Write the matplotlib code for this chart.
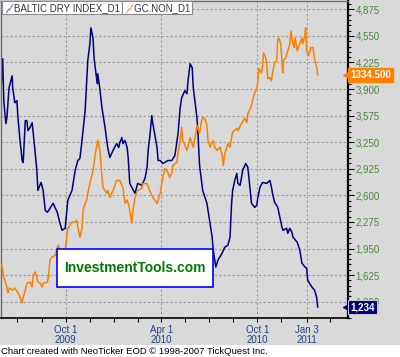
import matplotlib
matplotlib.use('Agg')
import matplotlib.pyplot as plt
import pandas as pd
from matplotlib.patches import Rectangle
from matplotlib.ticker import FixedLocator, MultipleLocator, FuncFormatter
from matplotlib.transforms import blended_transform_factory

plt.rcParams['font.family'] = ['Liberation Sans', 'DejaVu Sans']

# Baltic Dry Index (daily close)
bdi_dates = [
    '2009-05-31', '2009-06-03', '2009-06-05', '2009-06-09', '2009-06-11', '2009-06-15', '2009-06-21', '2009-06-22', '2009-06-26', '2009-06-30',
    '2009-07-02', '2009-07-06', '2009-07-10', '2009-07-12', '2009-07-16', '2009-07-19', '2009-07-21', '2009-07-25', '2009-07-29', '2009-07-31',
    '2009-08-04', '2009-08-07', '2009-08-09', '2009-08-15', '2009-08-19', '2009-08-23', '2009-08-27', '2009-09-01', '2009-09-07', '2009-09-15',
    '2009-09-20', '2009-09-24', '2009-09-30', '2009-10-05', '2009-10-13', '2009-10-19', '2009-10-24', '2009-10-28', '2009-11-01', '2009-11-07',
    '2009-11-12', '2009-11-16', '2009-11-18', '2009-11-22', '2009-11-24', '2009-11-30', '2009-12-01', '2009-12-05', '2009-12-09', '2009-12-15',
    '2009-12-20', '2009-12-24', '2009-12-30', '2010-01-06', '2010-01-10', '2010-01-12', '2010-01-16', '2010-01-18', '2010-01-22', '2010-01-26',
    '2010-01-28', '2010-01-31', '2010-02-04', '2010-02-10', '2010-02-15', '2010-02-23', '2010-03-01', '2010-03-05', '2010-03-07', '2010-03-10',
    '2010-03-14', '2010-03-16', '2010-03-24', '2010-03-26', '2010-03-30', '2010-04-04', '2010-04-14', '2010-04-21', '2010-04-27', '2010-05-03',
    '2010-05-07', '2010-05-10', '2010-05-16', '2010-05-20', '2010-05-22', '2010-05-26', '2010-05-30', '2010-06-01', '2010-06-04', '2010-06-08',
    '2010-06-10', '2010-06-13', '2010-06-19', '2010-06-27', '2010-07-03', '2010-07-07', '2010-07-09', '2010-07-14', '2010-07-18', '2010-07-26',
    '2010-07-31', '2010-08-06', '2010-08-10', '2010-08-13', '2010-08-15', '2010-08-19', '2010-08-23', '2010-08-25', '2010-08-29', '2010-09-01',
    '2010-09-03', '2010-09-09', '2010-09-13', '2010-09-17', '2010-09-20', '2010-09-26', '2010-09-30', '2010-10-02', '2010-10-06', '2010-10-11',
    '2010-10-19', '2010-10-25', '2010-10-28', '2010-10-30', '2010-11-03', '2010-11-09', '2010-11-13', '2010-11-17', '2010-11-19', '2010-11-26',
    '2010-11-28', '2010-12-02', '2010-12-06', '2010-12-08', '2010-12-16', '2010-12-21', '2010-12-25', '2010-12-31', '2011-01-03', '2011-01-05',
    '2011-01-13', '2011-01-18', '2011-01-22', '2011-01-24',
]
bdi_values = [
    3904, 4270, 3758, 3477, 3550, 3916, 4062, 3916, 3733, 3758,
    3550, 3270, 3026, 3002, 3514, 3514, 3392, 3429, 3489, 3368,
    3112, 2904, 2661, 2758, 2661, 2417, 2392, 2441, 2502, 2392,
    2258, 2173, 2197, 2539, 2661, 2904, 3026, 3051, 3270, 3636,
    4245, 4452, 4648, 4526, 4282, 3965, 4087, 3904, 3672, 3428,
    3185, 3063, 3148, 3233, 3185, 3246, 3307, 3233, 3270, 3185,
    3063, 2746, 2697, 2624, 2746, 2722, 2807, 2941, 3148, 3307,
    3575, 3477, 3185, 3026, 3026, 2990, 3026, 3026, 3087, 3355,
    3672, 3794, 3880, 3843, 4001, 4209, 4160, 3916, 3758, 3550,
    3355, 2965, 2661, 2502, 2258, 2088, 1929, 1722, 1807, 1893,
    1966, 1990, 2088, 2502, 2661, 2782, 2868, 2746, 2722, 2819,
    2904, 2990, 2941, 2697, 2502, 2453, 2478, 2575, 2697, 2758,
    2746, 2782, 2697, 2624, 2514, 2453, 2331, 2210, 2173, 2197,
    2136, 2197, 2148, 2088, 2027, 1929, 1771, 1722, 1710, 1563,
    1478, 1441, 1356, 1234,
]

# Gold futures (GC) close, own hidden scale
gold_dates = [
    '2009-06-01', '2009-06-05', '2009-06-09', '2009-06-13', '2009-06-16', '2009-06-22', '2009-06-26', '2009-07-02', '2009-07-06', '2009-07-10',
    '2009-07-12', '2009-07-16', '2009-07-19', '2009-07-25', '2009-07-29', '2009-07-31', '2009-08-04', '2009-08-07', '2009-08-09', '2009-08-13',
    '2009-08-17', '2009-08-19', '2009-08-27', '2009-08-29', '2009-09-01', '2009-09-05', '2009-09-11', '2009-09-15', '2009-09-17', '2009-09-20',
    '2009-09-24', '2009-09-26', '2009-09-30', '2009-10-03', '2009-10-05', '2009-10-09', '2009-10-13', '2009-10-19', '2009-10-22', '2009-10-24',
    '2009-10-28', '2009-11-01', '2009-11-03', '2009-11-07', '2009-11-10', '2009-11-12', '2009-11-16', '2009-11-22', '2009-11-26', '2009-12-01',
    '2009-12-05', '2009-12-09', '2009-12-11', '2009-12-18', '2009-12-20', '2009-12-24', '2009-12-30', '2010-01-06', '2010-01-12', '2010-01-18',
    '2010-01-22', '2010-01-26', '2010-01-28', '2010-01-31', '2010-02-04', '2010-02-06', '2010-02-10', '2010-02-13', '2010-02-15', '2010-02-23',
    '2010-02-25', '2010-03-05', '2010-03-10', '2010-03-16', '2010-03-24', '2010-03-30', '2010-04-04', '2010-04-08', '2010-04-12', '2010-04-17',
    '2010-04-21', '2010-04-23', '2010-05-01', '2010-05-03', '2010-05-07', '2010-05-10', '2010-05-12', '2010-05-20', '2010-05-26', '2010-06-01',
    '2010-06-06', '2010-06-08', '2010-06-13', '2010-06-17', '2010-06-19', '2010-06-23', '2010-06-27', '2010-06-29', '2010-07-03', '2010-07-09',
    '2010-07-12', '2010-07-16', '2010-07-22', '2010-07-26', '2010-07-28', '2010-07-31', '2010-08-04', '2010-08-06', '2010-08-10', '2010-08-13',
    '2010-08-15', '2010-08-23', '2010-08-25', '2010-09-01', '2010-09-07', '2010-09-11', '2010-09-13', '2010-09-20', '2010-09-22', '2010-09-26',
    '2010-09-30', '2010-10-02', '2010-10-04', '2010-10-09', '2010-10-11', '2010-10-13', '2010-10-17', '2010-10-19', '2010-10-21', '2010-10-25',
    '2010-10-28', '2010-10-30', '2010-11-03', '2010-11-07', '2010-11-09', '2010-11-11', '2010-11-15', '2010-11-17', '2010-11-19', '2010-11-20',
    '2010-11-24', '2010-11-28', '2010-12-02', '2010-12-04', '2010-12-08', '2010-12-10', '2010-12-12', '2010-12-16', '2010-12-18', '2010-12-21',
    '2010-12-25', '2010-12-27', '2010-12-31', '2011-01-01', '2011-01-03', '2011-01-07', '2011-01-11', '2011-01-15', '2011-01-18', '2011-01-22',
    '2011-01-24',
]
gold_values = [
    979, 956, 945, 927, 936, 932, 936, 927, 919, 908,
    919, 932, 945, 947, 938, 960, 966, 956, 947, 945,
    938, 945, 947, 956, 988, 994, 997, 1012, 1016, 1007,
    1007, 994, 1007, 1031, 1048, 1053, 1059, 1059, 1063, 1050,
    1031, 1048, 1081, 1094, 1100, 1113, 1131, 1156, 1184, 1212,
    1193, 1143, 1124, 1113, 1118, 1105, 1118, 1137, 1137, 1124,
    1094, 1100, 1094, 1081, 1057, 1081, 1105, 1115, 1118, 1122,
    1131, 1131, 1118, 1105, 1094, 1113, 1143, 1159, 1156, 1143,
    1150, 1165, 1171, 1189, 1212, 1236, 1212, 1193, 1217, 1199,
    1225, 1240, 1225, 1249, 1254, 1253, 1240, 1212, 1199, 1212,
    1199, 1193, 1199, 1184, 1165, 1187, 1199, 1206, 1199, 1217,
    1227, 1234, 1230, 1243, 1253, 1245, 1262, 1277, 1286, 1301,
    1308, 1323, 1346, 1338, 1351, 1375, 1366, 1355, 1327, 1329,
    1323, 1338, 1357, 1361, 1401, 1403, 1392, 1355, 1338, 1361,
    1366, 1379, 1392, 1416, 1392, 1385, 1403, 1379, 1385, 1392,
    1403, 1392, 1411, 1422, 1379, 1370, 1385, 1385, 1364, 1348,
    1334.5,
]

bdi_ticks = [1300, 1625, 1950, 2275, 2600, 2925, 3250, 3575, 3900, 4225, 4550, 4875]
label_dates = ['2009-10-01', '2010-04-01', '2010-10-01', '2011-01-03']
label_text = ['Oct 1\n2009', 'Apr 1\n2010', 'Oct 1\n2010', 'Jan 3\n2011']
minor_dates = ['2009-07-01', '2009-08-16', '2009-11-16', '2010-01-01', '2010-02-15',
               '2010-05-16', '2010-07-01', '2010-08-16', '2010-11-16', '2011-02-17']

bg = '#D9D9D9'
navy = '#000080'
orange = '#FF8000'

fig = plt.figure(figsize=(4.0, 3.57), dpi=100, facecolor=bg)
fig.patches.append(Rectangle((0, 0), 1, 12 / 357, transform=fig.transFigure,
                             facecolor='white', edgecolor='none'))

ax = fig.add_axes([1 / 400, 39 / 357, 347 / 400, 317 / 357])
ax.set_facecolor(bg)
ax.plot(pd.to_datetime(bdi_dates), bdi_values, color=navy, lw=1.1)
ax.set_ylim(1100, 4977)
ax.set_xlim(pd.Timestamp('2009-05-30 17:00'), pd.Timestamp('2011-03-22 19:00'))

ax2 = ax.twinx()
ax2.plot(pd.to_datetime(gold_dates), gold_values, color=orange, lw=1.1)
ax2.set_ylim(880, 1472)
ax2.set_yticks([])
for s in ax2.spines.values():
    s.set_visible(False)

# twinx moves the first axis to the left, put the BDI scale back on the right
ax.yaxis.tick_right()
ax.yaxis.set_label_position('right')
ax.yaxis.set_major_locator(FixedLocator(bdi_ticks))
ax.yaxis.set_minor_locator(MultipleLocator(65))
ax.yaxis.set_major_formatter(FuncFormatter(lambda v, p: f'{v:,.0f}'))
ax.tick_params(axis='y', which='major', length=4, width=0.8, color='black',
               labelsize=7, labelcolor='#4A8A3A', pad=1.5)
ax.tick_params(axis='y', which='minor', length=2.5, width=0.8, color='black')

ax.set_xticks(pd.to_datetime(label_dates))
ax.set_xticklabels(label_text, linespacing=1.05)
ax.set_xticks(pd.to_datetime(minor_dates), minor=True)
ax.tick_params(axis='x', which='both', length=3, width=0.8, color='black',
               labelsize=7, labelcolor='#27408B', pad=2)
ax.grid(True, which='major', color='#9A9A9A', linestyle=(0, (2, 2)), lw=0.8)

for side in ['top', 'left']:
    ax.spines[side].set_color('#6E6E6E')
    ax.spines[side].set_linewidth(1.0)
ax.spines['right'].set_color('black')
ax.spines['right'].set_linewidth(1.6)
ax.spines['bottom'].set_color('black')
ax.spines['bottom'].set_linewidth(1.2)

# last value tags on the right edge
t_gold = blended_transform_factory(ax2.transAxes, ax2.transData)
ax2.plot([0.993], [gold_values[-1]], marker='<', ms=4, color=orange,
         transform=t_gold, clip_on=False)
ax2.text(1.006, gold_values[-1], f'{gold_values[-1]:.3f}', transform=t_gold,
         ha='left', va='center', fontsize=7, color='white', fontweight='bold',
         bbox=dict(boxstyle='square,pad=0.2', fc=orange, ec=orange),
         clip_on=False, zorder=10)
t_bdi = blended_transform_factory(ax2.transAxes, ax.transData)
ax2.plot([0.993], [bdi_values[-1]], marker='<', ms=4, color=navy,
         transform=t_bdi, clip_on=False)
ax2.text(1.006, bdi_values[-1], f'{bdi_values[-1]:,}', transform=t_bdi,
         ha='left', va='center', fontsize=7, color='white', fontweight='bold',
         bbox=dict(boxstyle='square,pad=0.2', fc=navy, ec='#C8C8C8', lw=0.8),
         clip_on=False, zorder=10)

# legend boxes
ax2.text(0.006, 0.979, '    BALTIC DRY INDEX_D1', transform=ax2.transAxes, ha='left', va='center',
         fontsize=7, color='#333344',
         bbox=dict(boxstyle='square,pad=0.15', fc='white', ec='#8C8C8C', lw=0.8), zorder=10)
ax2.plot([0.016, 0.022, 0.025, 0.033], [0.963, 0.975, 0.971, 0.988], color='#6A7FC8',
         lw=0.8, transform=ax2.transAxes, zorder=11)
ax2.text(0.352, 0.979, '    GC.NON_D1', transform=ax2.transAxes, ha='left', va='center',
         fontsize=7, color='#333344',
         bbox=dict(boxstyle='square,pad=0.15', fc='white', ec='#8C8C8C', lw=0.8), zorder=10)
ax2.plot([0.362, 0.368, 0.371, 0.379], [0.963, 0.975, 0.971, 0.988], color='#F0A060',
         lw=0.8, transform=ax2.transAxes, zorder=11)

# watermark box
fig.add_artist(Rectangle((57 / 400, 70 / 357), 156 / 400, 38 / 357, transform=fig.transFigure,
                         facecolor='white', edgecolor='#0000FF', lw=1.2, zorder=5))
fig.text(135 / 400, 89 / 357, 'InvestmentTools.com', ha='center', va='center',
         fontsize=10, color='#007A00', fontweight='bold', zorder=6)

fig.text(0.003, 6 / 357, 'Chart created with NeoTicker EOD \u00a9 1998-2007 TickQuest Inc.',
         ha='left', va='center', fontsize=6.8, color='black')

fig.savefig('out.png', dpi=100, facecolor=bg)
